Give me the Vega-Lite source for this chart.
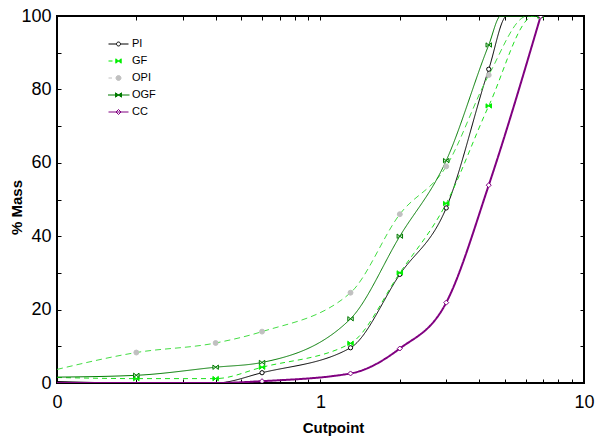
{
  "$schema": "https://vega.github.io/schema/vega-lite/v6.json",
  "width": 527,
  "height": 367,
  "autosize": "none",
  "padding": {"left": 57, "top": 16, "right": 12, "bottom": 60},
  "background": "white",
  "config": {
    "font": "Liberation Sans",
    "view": {"stroke": "black", "strokeWidth": 2}
  },
  "datasets": {
    "curves": [
      {"series": "PI", "x": 0.1, "y": 0.4},
      {"series": "PI", "x": 0.2, "y": 0},
      {"series": "PI", "x": 0.4, "y": 0},
      {"series": "PI", "x": 0.6, "y": 2.8},
      {"series": "PI", "x": 1.3, "y": 9.6},
      {"series": "PI", "x": 2, "y": 29.6},
      {"series": "PI", "x": 3, "y": 47.7},
      {"series": "PI", "x": 4.35, "y": 85.5},
      {"series": "PI", "x": 5.1, "y": 100},
      {"series": "PI", "x": 6.85, "y": 100},
      {"series": "GF", "x": 0.1, "y": 1.5},
      {"series": "GF", "x": 0.2, "y": 1.2},
      {"series": "GF", "x": 0.4, "y": 1.2},
      {"series": "GF", "x": 0.6, "y": 4.3},
      {"series": "GF", "x": 1.3, "y": 10.8},
      {"series": "GF", "x": 2, "y": 30.0},
      {"series": "GF", "x": 3, "y": 48.9},
      {"series": "GF", "x": 4.35, "y": 75.5},
      {"series": "GF", "x": 6.45, "y": 100},
      {"series": "GF", "x": 6.85, "y": 100},
      {"series": "OPI", "x": 0.1, "y": 3.7},
      {"series": "OPI", "x": 0.2, "y": 8.3},
      {"series": "OPI", "x": 0.4, "y": 10.9},
      {"series": "OPI", "x": 0.6, "y": 14.0},
      {"series": "OPI", "x": 1.3, "y": 24.6},
      {"series": "OPI", "x": 2, "y": 46.0},
      {"series": "OPI", "x": 3, "y": 59.0},
      {"series": "OPI", "x": 4.35, "y": 83.9},
      {"series": "OPI", "x": 6.1, "y": 100},
      {"series": "OPI", "x": 6.85, "y": 100},
      {"series": "OGF", "x": 0.1, "y": 1.6},
      {"series": "OGF", "x": 0.2, "y": 2.1},
      {"series": "OGF", "x": 0.4, "y": 4.3},
      {"series": "OGF", "x": 0.6, "y": 5.6},
      {"series": "OGF", "x": 1.3, "y": 17.5},
      {"series": "OGF", "x": 2, "y": 40.0},
      {"series": "OGF", "x": 3, "y": 60.6},
      {"series": "OGF", "x": 4.35, "y": 92.1},
      {"series": "OGF", "x": 4.83, "y": 100},
      {"series": "OGF", "x": 6.85, "y": 100},
      {"series": "CC", "x": 0.1, "y": 0},
      {"series": "CC", "x": 0.2, "y": 0},
      {"series": "CC", "x": 0.4, "y": 0},
      {"series": "CC", "x": 0.6, "y": 0.5},
      {"series": "CC", "x": 1.3, "y": 2.6},
      {"series": "CC", "x": 2, "y": 9.4},
      {"series": "CC", "x": 3, "y": 21.9},
      {"series": "CC", "x": 4.35, "y": 53.9},
      {"series": "CC", "x": 6.85, "y": 100}
    ],
    "markers": [
      {"series": "PI", "x": 0.6, "y": 2.8},
      {"series": "PI", "x": 1.3, "y": 9.6},
      {"series": "PI", "x": 2, "y": 29.6},
      {"series": "PI", "x": 3, "y": 47.7},
      {"series": "PI", "x": 4.35, "y": 85.5},
      {"series": "PI", "x": 6.85, "y": 100},
      {"series": "OPI", "x": 0.2, "y": 8.3},
      {"series": "OPI", "x": 0.4, "y": 10.9},
      {"series": "OPI", "x": 0.6, "y": 14.0},
      {"series": "OPI", "x": 1.3, "y": 24.6},
      {"series": "OPI", "x": 2, "y": 46.0},
      {"series": "OPI", "x": 3, "y": 59.0},
      {"series": "OPI", "x": 4.35, "y": 83.9},
      {"series": "OPI", "x": 6.85, "y": 100},
      {"series": "GF", "x": 0.2, "y": 1.2},
      {"series": "GF", "x": 0.4, "y": 1.2},
      {"series": "GF", "x": 0.6, "y": 4.3},
      {"series": "GF", "x": 1.3, "y": 10.8},
      {"series": "GF", "x": 2, "y": 30.0},
      {"series": "GF", "x": 3, "y": 48.9},
      {"series": "GF", "x": 4.35, "y": 75.5},
      {"series": "GF", "x": 6.85, "y": 100},
      {"series": "OGF", "x": 0.2, "y": 2.1},
      {"series": "OGF", "x": 0.4, "y": 4.3},
      {"series": "OGF", "x": 0.6, "y": 5.6},
      {"series": "OGF", "x": 1.3, "y": 17.5},
      {"series": "OGF", "x": 2, "y": 40.0},
      {"series": "OGF", "x": 3, "y": 60.6},
      {"series": "OGF", "x": 4.35, "y": 92.1},
      {"series": "OGF", "x": 6.85, "y": 100},
      {"series": "CC", "x": 0.6, "y": 0.5},
      {"series": "CC", "x": 1.3, "y": 2.6},
      {"series": "CC", "x": 2, "y": 9.4},
      {"series": "CC", "x": 3, "y": 21.9},
      {"series": "CC", "x": 4.35, "y": 53.9},
      {"series": "CC", "x": 6.85, "y": 100}
    ]
  },
  "layer": [
    {
      "data": {"name": "curves"},
      "mark": {"type": "line", "interpolate": "monotone", "clip": true},
      "encoding": {
        "x": {
          "field": "x", "type": "quantitative",
          "scale": {"type": "log", "domain": [0.1, 10], "nice": false},
          "axis": {
            "orient": "bottom",
            "values": [0.1, 0.2, 0.3, 0.4, 0.5, 0.6, 0.7, 0.8, 0.9, 1, 2, 3, 4, 5, 6, 7, 8, 9, 10],
            "labelExpr": "datum.value == 0.1 ? '0' : datum.value == 1 ? '1' : datum.value == 10 ? '10' : ''",
            "labelFontSize": 18, "labelColor": "black", "labelFlush": false, "labelOverlap": false, "labelBound": false,
            "labelPadding": 14,
            "tickSize": -4, "tickColor": "black", "tickWidth": 1,
            "domain": false, "grid": false,
            "title": "Cutpoint", "titleFontSize": 15, "titleFontWeight": "bold", "titleColor": "black",
            "titleX": 276, "titleY": 37, "titleBaseline": "top", "titleAlign": "center"
          }
        },
        "y": {
          "field": "y", "type": "quantitative",
          "scale": {"domain": [0, 100], "nice": false},
          "axis": {
            "orient": "left",
            "values": [0, 10, 20, 30, 40, 50, 60, 70, 80, 90, 100],
            "labelExpr": "datum.value % 20 == 0 ? format(datum.value, 'd') : ''",
            "labelFontSize": 18, "labelColor": "black", "labelFlush": false, "labelOverlap": false, "labelBound": false,
            "labelPadding": 10,
            "tickSize": -4, "tickColor": "black", "tickWidth": 1,
            "domain": false, "grid": false,
            "title": "% Mass", "titleFontSize": 15, "titleFontWeight": "bold", "titleColor": "black",
            "titleX": -41, "titleY": 191, "titleAngle": -90, "titleBaseline": "middle", "titleAlign": "center"
          }
        },
        "color": {
          "field": "series", "type": "nominal",
          "scale": {"domain": ["CC", "OGF", "OPI", "GF", "PI"], "range": ["#800080", "#007a00", "#44dd44", "#1ee01e", "#000000"]},
          "legend": null
        },
        "strokeDash": {
          "field": "series", "type": "nominal",
          "scale": {"domain": ["CC", "OGF", "OPI", "GF", "PI"], "range": [[1, 0], [1, 0], [6, 4], [5, 4], [1, 0]]},
          "legend": null
        },
        "strokeWidth": {
          "field": "series", "type": "nominal",
          "scale": {"type": "ordinal", "domain": ["CC", "OGF", "OPI", "GF", "PI"], "range": [2, 1, 1, 1, 1]},
          "legend": null
        },
        "order": {"field": "x", "type": "quantitative"}
      }
    },
    {
      "data": {"name": "markers"},
      "mark": {"type": "point", "clip": true, "opacity": 1, "strokeWidth": 1},
      "encoding": {
        "x": {
          "field": "x", "type": "quantitative",
          "scale": {"type": "log", "domain": [0.1, 10], "nice": false},
          "axis": {
            "orient": "top",
            "values": [0.2, 0.3, 0.4, 0.5, 0.6, 0.7, 0.8, 0.9, 1, 2, 3, 4, 5, 6, 7, 8, 9],
            "labels": false, "tickSize": -4, "tickColor": "black", "domain": false, "grid": false, "title": null
          }
        },
        "y": {
          "field": "y", "type": "quantitative",
          "scale": {"domain": [0, 100], "nice": false},
          "axis": {
            "orient": "right",
            "values": [10, 20, 30, 40, 50, 60, 70, 80, 90],
            "labels": false, "tickSize": -4, "tickColor": "black", "domain": false, "grid": false, "title": null
          }
        },
        "shape": {
          "field": "series", "type": "nominal",
          "scale": {"domain": ["CC", "OGF", "OPI", "GF", "PI"], "range": ["diamond", "M-1,-0.8L1,0.8L1,-0.8L-1,0.8Z", "circle", "M-1,-0.8L1,0.8L1,-0.8L-1,0.8Z", "circle"]},
          "legend": null
        },
        "stroke": {
          "field": "series", "type": "nominal",
          "scale": {"domain": ["PI", "GF", "OPI", "OGF", "CC"], "range": ["#000000", "#00ee00", "#c0c0c0", "#007a00", "#800080"]},
          "legend": {
            "orient": "none", "legendX": 51, "legendY": 19.5, "title": null,
            "symbolSize": 400, "labelFontSize": 11, "labelFont": "Liberation Sans", "labelColor": "black",
            "labelOffset": 3, "rowPadding": 0, "clipHeight": 17, "symbolStrokeWidth": 1, "symbolOpacity": 1,
            "encoding": {
              "symbols": {
                "shape": {"value": {"expr": "datum.value=='PI'?'M-1,0L-0.2,0M0.2,0L1,0M-0.2,0A0.2,0.2,0,1,0,0.2,0A0.2,0.2,0,1,0,-0.2,0Z':datum.value=='GF'?'M-1,0L-0.6,0M-0.27,-0.22L0.27,0.22L0.27,-0.22L-0.27,0.22Z':datum.value=='OPI'?'M-1,0L-0.65,0M-0.25,0A0.25,0.25,0,1,0,0.25,0A0.25,0.25,0,1,0,-0.25,0Z':datum.value=='OGF'?'M-1.1,0L1.1,0M-0.3,-0.22L0.3,0.22L0.3,-0.22L-0.3,0.22Z':'M-1,0L1,0M-0.25,0L0,-0.25L0.25,0L0,0.25Z'"}},
                "fill": {"value": {"expr": "datum.value=='PI'||datum.value=='CC'?'white':datum.value=='GF'?'#00ee00':datum.value=='OPI'?'#c0c0c0':'#007a00'"}}
              }
            }
          }
        },
        "fill": {
          "field": "series", "type": "nominal",
          "scale": {"domain": ["CC", "OGF", "OPI", "GF", "PI"], "range": ["#ffffff", "#c8ecc8", "#c0c0c0", "#00ee00", "#ffffff"]},
          "legend": null
        },
        "size": {
          "field": "series", "type": "nominal",
          "scale": {"type": "ordinal", "domain": ["CC", "OGF", "OPI", "GF", "PI"], "range": [25, 30, 24, 30, 18]},
          "legend": null
        }
      }
    }
  ],
  "resolve": {"axis": {"x": "independent", "y": "independent"}}
}
